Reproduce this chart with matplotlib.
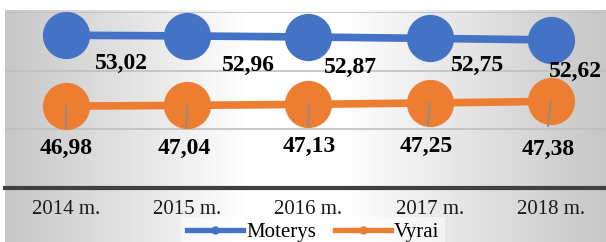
import numpy as np
import matplotlib
matplotlib.use("Agg")
import matplotlib.pyplot as plt
from matplotlib.lines import Line2D

plt.rcParams['font.family'] = ['Liberation Serif', 'DejaVu Serif']

categories = ["2014 m.", "2015 m.", "2016 m.", "2017 m.", "2018 m."]
moterys = [53.02, 52.96, 52.87, 52.75, 52.62]
vyrai = [46.98, 47.04, 47.13, 47.25, 47.38]
series_names = ["Moterys", "Vyrai"]

# label offsets (pixels) relative to each point
blue_offsets = [(55, -34), (61, -35), (42, -36), (48, -33), (24, -37)]
orange_offsets = [(0, -48), (-3, -49), (1, -48), (-3, -49), (-3, -54)]
leader_ends = [(0, -22), (-1, -22), (0, -22), (-2, -22), (-3, -25)]

BLUE = "#4472C4"
ORANGE = "#ED7D31"

W, H = 606, 242
fig = plt.figure(figsize=(W / 100, H / 100), dpi=100)
fig.patch.set_facecolor("white")

# gradient background panel
bg = fig.add_axes([5 / W, 0, 1 - 5 / W, (H - 10) / H], zorder=-10)
xs = np.linspace(0, 1, 400)
vals = np.interp(xs, [0, 0.3, 0.4, 0.56, 0.7, 1.0], [0.78, 0.94, 1.0, 1.0, 0.93, 0.78])
img = np.tile(vals, (20, 1))
bg.imshow(np.dstack([img, img, img]), aspect="auto", extent=[0, 1, 0, 1])
bg.set_axis_off()

ax = fig.add_axes([5.4 / W, (H - 188) / H, (W - 5.4) / W, 176 / H])
ax.set_facecolor("none")
x = np.arange(len(categories))
ax.plot(x, moterys, color=BLUE, lw=5.5, marker="o", ms=33, zorder=3)
ax.plot(x, vyrai, color=ORANGE, lw=5.5, marker="o", ms=33, zorder=3)

ax.set_xlim(-0.5, 4.454)
ax.set_ylim(40, 55)
ax.set_yticks([45, 50, 55])
ax.yaxis.grid(True, color="#bfbfbf", lw=1.2)
ax.set_axisbelow(True)
ax.tick_params(axis="y", left=False, labelleft=False)
ax.set_xticks(x)
ax.set_xticklabels(categories, fontsize=15, color="#1a1a1a")
ax.tick_params(axis="x", length=0, pad=9)
for s in ["left", "right", "top"]:
    ax.spines[s].set_visible(False)
ax.spines["bottom"].set_color("#404040")
ax.spines["bottom"].set_linewidth(3)

for i, v in enumerate(moterys):
    ax.annotate(f"{v:.2f}".replace(".", ","), (x[i], v), xytext=blue_offsets[i],
                textcoords="offset pixels", ha="center", va="baseline",
                fontsize=17, fontweight="bold", color="black", zorder=5)
for i, v in enumerate(vyrai):
    ax.annotate("", (x[i], v), xytext=leader_ends[i], textcoords="offset pixels",
                arrowprops=dict(arrowstyle="-", color="#8c8c8c", lw=1.3, shrinkA=0, shrinkB=0),
                zorder=4)
    ax.annotate(f"{v:.2f}".replace(".", ","), (x[i], v), xytext=orange_offsets[i],
                textcoords="offset pixels", ha="center", va="baseline",
                fontsize=17, fontweight="bold", color="black", zorder=5)

handles = [Line2D([], [], color=BLUE, lw=3.8, marker="o", ms=5),
           Line2D([], [], color=ORANGE, lw=3.8, marker="o", ms=5)]
leg = fig.legend(handles, series_names, loc="center", bbox_to_anchor=(313 / W, 10 / H),
                 ncol=2, fontsize=15, frameon=True, handlelength=2.7, handletextpad=0.15,
                 columnspacing=0.9, borderpad=0.25, fancybox=False)
leg.get_frame().set_facecolor("white")
leg.get_frame().set_alpha(0.5)
leg.get_frame().set_edgecolor("none")

fig.savefig("out.png", dpi=100)
